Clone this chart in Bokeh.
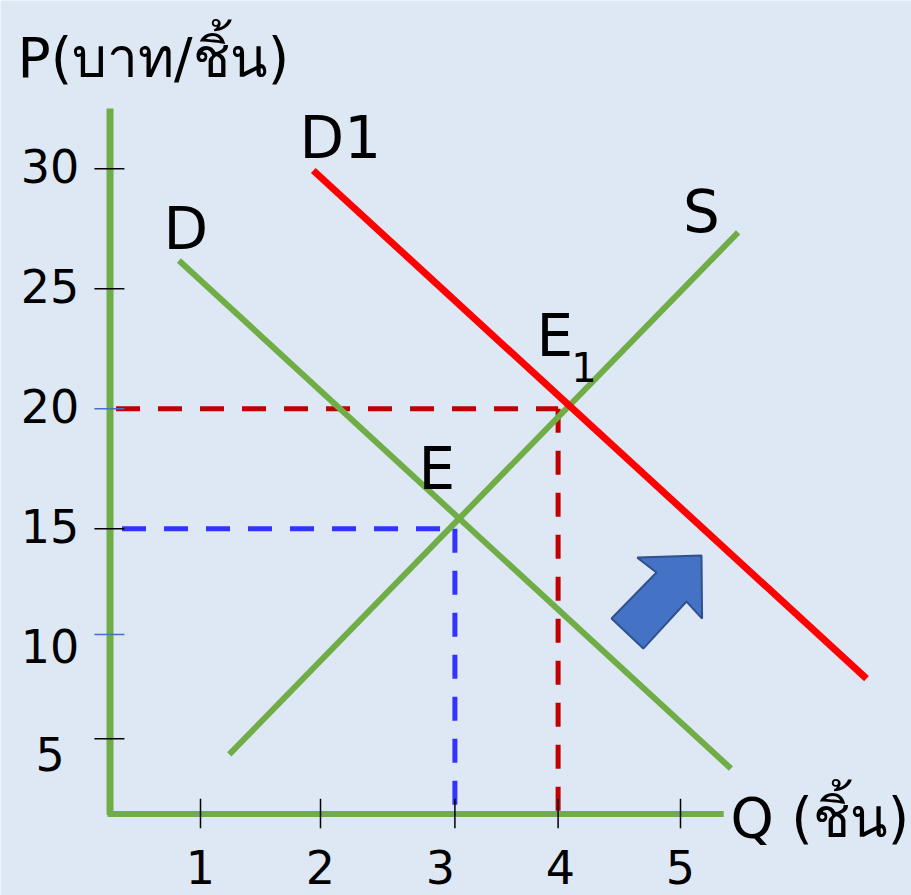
from bokeh.plotting import figure
from bokeh.models import Range1d
from bokeh.embed import file_html
from bokeh.resources import INLINE
from bokeh.core.properties import value

# ---------------- data ----------------
q_tick_labels = ["1", "2", "3", "4", "5"]
q_label_at = [1.0, 2.0, 3.0, 4.0, 5.0]
q_tick_at = [1.0, 2.0, 3.12, 3.98, 5.0]

p_tick_labels = ["30", "25", "20", "15", "10", "5"]
p_label_at = [30.0, 25.0, 20.0, 15.0, 10.0, 5.5]
p_tick_at = [30.0, 25.0, 20.0, 15.0, 10.6, 6.25]

# curves (endpoints, Q and P)
demand_q = [0.82, 5.42]
demand_p = [26.18, 5.01]
supply_q = [1.24, 5.48]
supply_p = [5.60, 27.35]
demand1_q = [1.94, 6.55]
demand1_p = [29.93, 8.76]

# equilibria
eq_q, eq_p = 3.12, 15.0
eq1_q, eq1_p = 3.98, 20.0

# axes extent
axis_q0, axis_p0 = 0.246, 3.12
axis_q_end, axis_p_end = 5.36, 32.51

# shift arrow outline
arrow_q = [4.64, 5.175, 5.18, 5.05, 4.69, 4.425, 4.80]
arrow_p = [13.80, 13.89, 11.26, 11.97, 10.01, 11.26, 13.18]

# ---------------- styles ----------------
BG = "#dde8f4"
GREEN = "#70ad47"
RED = "#ff0000"
DRED = "#c00000"
DBLUE = "#3333ff"
TICKBLUE = "#4472c4"
FONT = value("DejaVu Sans")
BASE_FIX = -0.42  # em shift so the alphabetic baseline lands where intended

W, H = 911, 895
p = figure(width=W, height=H, min_border=0,
           x_axis_type=None, y_axis_type=None,
           x_range=Range1d(-80 / 120.0, (W - 80) / 120.0),
           y_range=Range1d((888.3 - H) / 24.0, 888.3 / 24.0),
           toolbar_location=None, output_backend="svg")
p.outline_line_color = None
p.background_fill_color = BG
p.border_fill_color = BG

# dashed guide lines
p.line([axis_q0 + 0.1, eq_q], [eq_p, eq_p], line_color=DBLUE, line_width=5, line_dash="24 18")
p.line([eq_q, eq_q], [eq_p, axis_p0], line_color=DBLUE, line_width=5, line_dash="24 18")
p.line([axis_q0 + 0.05, eq1_q], [eq1_p, eq1_p], line_color=DRED, line_width=5, line_dash="24 18")
p.line([eq1_q, eq1_q], [eq1_p, axis_p0], line_color=DRED, line_width=5, line_dash="24 18")

# axes lines
p.line([axis_q0, axis_q0], [axis_p_end, axis_p0 - 0.05], line_color=GREEN, line_width=7)
p.line([axis_q0 - 0.02, axis_q_end], [axis_p0, axis_p0], line_color=GREEN, line_width=6)

# tick marks
ytick_colors = ["black", "black", TICKBLUE, "black", TICKBLUE, "black"]
p.segment(x0=[axis_q0 - 0.13] * len(p_tick_at), y0=p_tick_at,
          x1=[axis_q0 + 0.12] * len(p_tick_at), y1=p_tick_at,
          line_color=ytick_colors, line_width=1.5)
p.segment(x0=q_tick_at, y0=[axis_p0 + 0.63] * len(q_tick_at),
          x1=q_tick_at, y1=[axis_p0 - 0.6] * len(q_tick_at),
          line_color="black", line_width=1.5)

# curves
p.line(demand_q, demand_p, line_color=GREEN, line_width=6)
p.line(supply_q, supply_p, line_color=GREEN, line_width=6)
p.line(demand1_q, demand1_p, line_color=RED, line_width=7)

# arrow
p.patch(arrow_q, arrow_p, fill_color="#4472c4", line_color="#2f528f", line_width=2)


def label(x, y, txt, size, align="left", extra=0.0):
    p.text(x=x, y=y, text=txt, text_font=FONT, text_font_size=f"{size}px",
           text_align=align, text_baseline="alphabetic", text_color="black",
           y_offset=BASE_FIX * size + extra)


# tick labels (centred on their value: cap height / 2 below the centre)
label([-0.254] * len(p_label_at), p_label_at, p_tick_labels, 46, "center", extra=0.3645 * 46)
label(q_label_at, [0.1] * len(q_label_at), q_tick_labels, 46, "center")

# labels
label([-0.525], [33.64], ["P(บาท/ชิ้น)"], 55)
label([5.417], [1.97], ["Q (ชิ้น)"], 55)
label([1.825], [30.26], ["D1"], 58)
label([0.692], [26.47], ["D"], 58)
label([5.175], [27.18], ["S"], 58, "center")
label([3.8], [22.01], ["E"], 58)
label([4.196], [21.05], ["1"], 40, "center")
label([2.817], [16.47], ["E"], 58)

open("out.html", "w").write(file_html(p, INLINE))
